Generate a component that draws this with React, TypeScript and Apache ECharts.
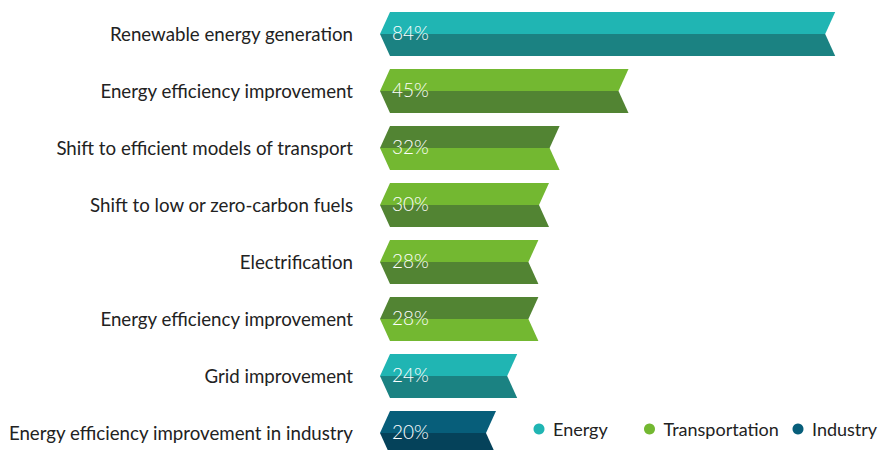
import React, { useEffect, useRef } from "react";
import * as echarts from "echarts";

const categories = [
  "Renewable energy generation",
  "Energy efficiency improvement",
  "Shift to efficient models of transport",
  "Shift to low or zero-carbon fuels",
  "Electrification",
  "Energy efficiency improvement",
  "Grid improvement",
  "Energy efficiency improvement in industry",
];
const values = [84, 45, 32, 30, 28, 28, 24, 20];
const sectors = [
  "Energy",
  "Transportation",
  "Transportation",
  "Transportation",
  "Transportation",
  "Transportation",
  "Energy",
  "Industry",
];
const darkOnTop = [0, 0, 1, 0, 0, 1, 0, 0];
const sectorNames = ["Energy", "Transportation", "Industry"];
const lightColors = ["#20B5B3", "#73B831", "#075E7A"];
const darkColors = ["#1B8282", "#528433", "#05425A"];
const legendLeft = [533.5, 644, 792.5];

const FONT = "Lato, 'Open Sans', sans-serif";

export default function App() {
  const ref = useRef<HTMLDivElement>(null);
  useEffect(() => {
    document.body.style.margin = "0";
    const chart = echarts.init(ref.current!, null, { renderer: "svg" });
    const series = sectorNames.map((name, si) => ({
      type: "custom",
      name,
      itemStyle: { color: lightColors[si] },
      encode: { x: 1, y: 0 },
      data: values
        .map((v, i) => [i, v, darkOnTop[i]])
        .filter((d, i) => sectors[i] === name),
      renderItem: (params: any, api: any) => {
        const cat = api.value(0);
        const val = api.value(1);
        const flip = api.value(2);
        const s = api.coord([0, cat]);
        const e = api.coord([val, cat]);
        const band = api.size([0, 1])[1];
        const h = band * 0.775;
        const x0 = s[0];
        const x1 = e[0];
        const yc = s[1];
        const top = yc - h / 2;
        const bot = yc + h / 2;
        const d = 10;
        const topColor = flip ? darkColors[si] : lightColors[si];
        const botColor = flip ? lightColors[si] : darkColors[si];
        return {
          type: "group",
          children: [
            {
              type: "polygon",
              shape: { points: [[x0, top], [x1, top], [x1 - d, yc], [x0 - d, yc]] },
              style: { fill: topColor },
            },
            {
              type: "polygon",
              shape: { points: [[x0 - d, yc], [x1 - d, yc], [x1, bot], [x0, bot]] },
              style: { fill: botColor },
            },
            {
              type: "text",
              x: x0 + 2,
              y: yc - 1.5,
              style: {
                text: val + "%",
                fill: "#ffffff",
                fontSize: 19,
                fontFamily: FONT,
                fontWeight: 300,
                verticalAlign: "middle",
                align: "left",
              },
            },
          ],
        };
      },
    }));
    chart.setOption({
      animation: false,
      grid: { left: 390, top: 5.5, height: 456, width: 530 },
      xAxis: { type: "value", min: 0, max: 100, show: false },
      yAxis: {
        type: "category",
        data: categories,
        inverse: true,
        axisLine: { show: false },
        axisTick: { show: false },
        axisLabel: {
          margin: 37,
          color: "#222222",
          fontSize: 18.7,
          fontFamily: FONT,
          verticalAlign: "middle",
          padding: [0, 0, 9, 0],
        },
      },
      legend: sectorNames.map((n, i) => ({
        data: [n],
        left: legendLeft[i],
        top: 419,
        padding: 0,
        icon: "circle",
        itemWidth: 18,
        itemHeight: 11,
        textStyle: { color: "#222222", fontSize: 18, fontFamily: FONT, lineHeight: 20 },
      })),
      series,
    });
    return () => chart.dispose();
  }, []);
  return (
    <div style={{ width: 884, height: 450, overflow: "hidden", position: "relative" }}>
      <div ref={ref} style={{ width: 930, height: 470 }} />
    </div>
  );
}
